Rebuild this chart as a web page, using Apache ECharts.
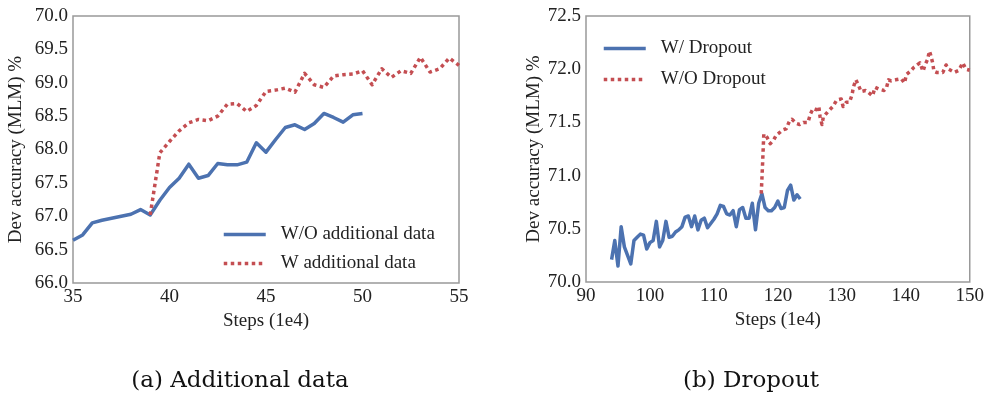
<!DOCTYPE html>
<html>
<head>
<meta charset="utf-8">
<script src="https://cdn.jsdelivr.net/npm/echarts@6/dist/echarts.min.js"></script>
<style>
html,body{margin:0;padding:0;background:#fff;}
#c{width:987px;height:397px;}
</style>
</head>
<body>
<div id="c"></div>
<script>
// ---- Panel (a): Additional data ----
const aBlueX = [35,35.5,36,36.5,37,37.5,38,38.5,39,39.5,40,40.5,41,41.5,42,42.5,43,43.5,44,44.5,45,45.5,46,46.5,47,47.5,48,48.5,49,49.5,50];
const aBlueY = [66.64,66.72,66.9,66.94,66.97,67.0,67.03,67.1,67.02,67.24,67.43,67.57,67.78,67.57,67.61,67.79,67.77,67.77,67.81,68.1,67.96,68.15,68.33,68.37,68.3,68.39,68.54,68.48,68.41,68.52,68.54];
const aRedX = [39,39.5,40,40.5,41,41.5,42,42.5,43,43.5,44,44.5,45,45.5,46,46.5,47,47.5,48,48.5,49,49.5,50,50.5,51,51.5,52,52.5,53,53.5,54,54.5,55];
const aRedY = [67.02,67.95,68.12,68.28,68.4,68.45,68.43,68.5,68.68,68.69,68.57,68.66,68.87,68.89,68.92,68.86,69.14,68.97,68.93,69.1,69.12,69.13,69.18,68.97,69.21,69.08,69.18,69.14,69.38,69.16,69.21,69.37,69.26];

// ---- Panel (b): Dropout ----
const bBlueX = [94,94.5,95,95.5,96,96.5,97,97.5,98,98.5,99,99.5,100,100.5,101,101.5,102,102.5,103,103.5,104,104.5,105,105.5,106,106.5,107,107.5,108,108.5,109,109.5,110,110.5,111,111.5,112,112.5,113,113.5,114,114.5,115,115.5,116,116.5,117,117.5,118,118.5,119,119.5,120,120.5,121,121.5,122,122.5,123,123.5];
const bBlueY = [70.21,70.39,70.15,70.52,70.33,70.25,70.17,70.39,70.42,70.45,70.44,70.31,70.37,70.39,70.57,70.33,70.39,70.57,70.42,70.43,70.47,70.49,70.52,70.61,70.62,70.52,70.62,70.49,70.58,70.6,70.51,70.55,70.59,70.64,70.72,70.71,70.64,70.63,70.67,70.52,70.68,70.7,70.6,70.6,70.74,70.49,70.74,70.83,70.7,70.67,70.67,70.7,70.76,70.69,70.7,70.86,70.91,70.77,70.82,70.78];
const bRedX = [117.4,117.6,117.8,118.3,118.8,119.3,119.75,120.4,120.8,121.3,121.8,122.2,122.9,123.4,124.0,124.7,125.1,125.5,126.0,126.4,126.6,126.9,127.1,127.8,128.6,129.2,129.9,130.2,130.7,131.2,131.6,131.8,132.2,132.6,133.0,133.7,134.2,134.8,135.2,135.9,136.6,137.0,137.3,137.7,138.4,139.3,139.8,140.1,140.7,141.3,142.2,142.7,143.0,143.4,143.7,143.9,144.2,144.4,144.8,145.8,146.3,146.7,147.6,148.3,148.9,149.4,150];
const bRedY = [70.83,71.1,71.39,71.36,71.3,71.33,71.38,71.41,71.43,71.44,71.51,71.53,71.49,71.48,71.5,71.5,71.58,71.63,71.62,71.65,71.55,71.48,71.55,71.6,71.65,71.71,71.72,71.65,71.69,71.69,71.76,71.83,71.9,71.85,71.79,71.8,71.78,71.75,71.83,71.81,71.8,71.83,71.9,71.89,71.9,71.91,71.87,71.95,71.98,72.02,72.06,71.98,72.04,72.09,72.17,72.13,72.06,71.98,71.97,71.97,72.04,72.0,71.97,71.99,72.06,72.0,71.99];

const xTicksA = [35,40,45,50,55];
const yTicksA = [66.0,66.5,67.0,67.5,68.0,68.5,69.0,69.5,70.0];
const xTicksB = [90,100,110,120,130,140,150];
const yTicksB = [70.0,70.5,71.0,71.5,72.0,72.5];

const names = {
  aBlue: 'W/O additional data', aRed: 'W additional data',
  bBlue: 'W/ Dropout', bRed: 'W/O Dropout'
};
const BLUE = '#4C72B0', RED = '#C44E52';
const SERIF = '"Liberation Serif", "DejaVu Serif", serif';
const CAPF = '"DejaVu Serif", "Liberation Serif", serif';

function pairs(xs, ys){ return xs.map((x,i)=>[x, ys[i]]); }

const axisLabel = {color:'#222', fontFamily:SERIF, fontSize:19};
function xAx(idx, ticks){
  return {type:'value', gridIndex:idx, min:ticks[0], max:ticks[ticks.length-1],
    interval:ticks[1]-ticks[0], axisLine:{show:false}, axisTick:{show:false}, splitLine:{show:false},
    axisLabel:Object.assign({margin:5}, axisLabel),
    name:'Steps (1e4)', nameLocation:'middle', nameGap:29,
    nameTextStyle:{color:'#222', fontFamily:SERIF, fontSize:19}};
}
function yAx(idx, ticks, gap){
  return {type:'value', gridIndex:idx, min:ticks[0], max:ticks[ticks.length-1],
    interval:0.5, axisLine:{show:false}, axisTick:{show:false}, splitLine:{show:false},
    axisLabel:Object.assign({margin:5, formatter:v=>v.toFixed(1)}, axisLabel),
    name:'Dev accuracy (MLM) %', nameLocation:'middle', nameGap:gap, nameRotate:90,
    nameTextStyle:{color:'#222', fontFamily:SERIF, fontSize:19}};
}
function line(name, xi, yi, data, color, dotted){
  return {name, type:'line', xAxisIndex:xi, yAxisIndex:yi, data, showSymbol:false, symbol:'none',
    animation:false, color, itemStyle:{color},
    lineStyle:{color, width:3.5, type:dotted?[3.5,3.5]:'solid', cap:'butt', join:'round'}};
}
const legendCommon = {orient:'vertical', itemWidth:42, itemHeight:16,
  itemStyle:{opacity:0},
  lineStyle:{width:3.5},
  textStyle:{fontFamily:SERIF, fontSize:19, color:'#222', padding:[0,0,0,10]}};

const chart = echarts.init(document.getElementById('c'), null, {renderer:'canvas'});
chart.setOption({
  backgroundColor:'#fff',
  animation:false,
  grid:[
    {left:73, right:528, top:16, bottom:114, show:true, borderColor:'#999', borderWidth:1.5, backgroundColor:'transparent'},
    {left:586, right:16, top:16, bottom:115, show:true, borderColor:'#999', borderWidth:1.5, backgroundColor:'transparent'}
  ],
  xAxis:[xAx(0, xTicksA), xAx(1, xTicksB)],
  yAxis:[yAx(0, yTicksA, 47), yAx(1, yTicksB, 42)],
  legend:[
    Object.assign({data:[names.aBlue, names.aRed], left:217, top:220, itemGap:10}, legendCommon),
    Object.assign({data:[names.bBlue, names.bRed], left:597, top:34, itemGap:12}, legendCommon)
  ],
  graphic:[
    {type:'text', x:240, y:381, style:{text:'(a) Additional data', fontFamily:CAPF, fontSize:23, fill:'#111', align:'center', verticalAlign:'middle'}},
    {type:'text', x:751, y:381, style:{text:'(b) Dropout', fontFamily:CAPF, fontSize:23, fill:'#111', align:'center', verticalAlign:'middle'}}
  ],
  series:[
    line(names.aBlue, 0, 0, pairs(aBlueX, aBlueY), BLUE, false),
    line(names.aRed, 0, 0, pairs(aRedX, aRedY), RED, true),
    line(names.bBlue, 1, 1, pairs(bBlueX, bBlueY), BLUE, false),
    line(names.bRed, 1, 1, pairs(bRedX, bRedY), RED, true)
  ]
});
</script>
</body>
</html>
